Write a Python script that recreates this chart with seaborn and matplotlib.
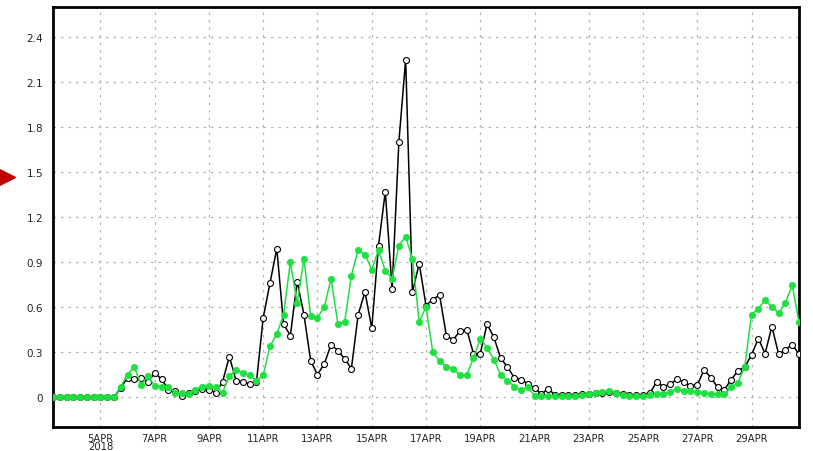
import matplotlib
matplotlib.use("Agg")
import matplotlib.pyplot as plt
import matplotlib.transforms as mtransforms
import numpy as np
import pandas as pd
import seaborn as sns

# 6-hourly readings, 3 Apr 2018 06:00 to 30 Apr 2018 18:00
start = "2018-04-03 06:00"
freq = "6h"

series_black = [
    0, 0, 0, 0, 0, 0, 0, 0, 0, 0,
    0.06, 0.13, 0.12, 0.13, 0.10, 0.16, 0.12, 0.05, 0.04, 0.01,
    0.03, 0.04, 0.055, 0.05, 0.03, 0.10, 0.27, 0.11, 0.10, 0.09,
    0.10, 0.53, 0.76, 0.99, 0.485, 0.41, 0.77, 0.55, 0.24, 0.15,
    0.22, 0.35, 0.31, 0.255, 0.19, 0.55, 0.70, 0.46, 1.01, 1.37,
    0.72, 1.70, 2.25, 0.70, 0.89, 0.61, 0.65, 0.68, 0.41, 0.38,
    0.44, 0.45, 0.29, 0.29, 0.485, 0.40, 0.26, 0.20, 0.13, 0.115,
    0.09, 0.06, 0.02, 0.055, 0.015, 0.015, 0.015, 0.015, 0.02, 0.02,
    0.025, 0.03, 0.035, 0.03, 0.02, 0.015, 0.015, 0.015, 0.025, 0.10,
    0.07, 0.085, 0.12, 0.10, 0.075, 0.08, 0.18, 0.13, 0.065, 0.05,
    0.115, 0.175, 0.20, 0.28, 0.39, 0.29, 0.47, 0.285, 0.315, 0.35,
    0.285,
]

series_green = [
    0, 0, 0, 0, 0, 0, 0, 0, 0, 0,
    0.07, 0.15, 0.20, 0.08, 0.14, 0.075, 0.07, 0.065, 0.03, 0.03,
    0.02, 0.05, 0.07, 0.075, 0.065, 0.03, 0.14, 0.18, 0.16, 0.145,
    0.11, 0.145, 0.34, 0.42, 0.55, 0.90, 0.625, 0.92, 0.54, 0.53,
    0.60, 0.79, 0.49, 0.50, 0.81, 0.98, 0.95, 0.85, 0.98, 0.84,
    0.79, 1.01, 1.07, 0.92, 0.50, 0.60, 0.30, 0.24, 0.20, 0.19,
    0.145, 0.145, 0.26, 0.39, 0.33, 0.25, 0.15, 0.11, 0.07, 0.045,
    0.065, 0.01, 0.005, 0.005, 0.005, 0.008, 0.008, 0.01, 0.015, 0.02,
    0.03, 0.035, 0.04, 0.03, 0.015, 0.01, 0.01, 0.01, 0.015, 0.02,
    0.02, 0.035, 0.055, 0.04, 0.04, 0.035, 0.03, 0.02, 0.02, 0.02,
    0.065, 0.095, 0.20, 0.55, 0.59, 0.645, 0.60, 0.56, 0.63, 0.745,
    0.50,
]

tick_dates = ["2018-04-%02d" % d for d in range(5, 30, 2)]
tick_labels = ["5APR\n2018"] + ["%dAPR" % d for d in range(7, 30, 2)]
y_ticks = [0, 0.3, 0.6, 0.9, 1.2, 1.5, 1.8, 2.1, 2.4]
y_tick_labels = ["0", "0.3", "0.6", "0.9", "1.2", "1.5", "1.8", "2.1", "2.4"]
threshold = 1.5

times = pd.date_range(start, periods=len(series_black), freq=freq)
df = pd.DataFrame({"time": times, "black": series_black, "green": series_green})

sns.set_style("white")
plt.rcParams["font.family"] = ["DejaVu Sans"]

fig = plt.figure(figsize=(8.13, 4.52), dpi=100)
ax = fig.add_axes([53 / 813, 24 / 452, 746 / 813, 420 / 452])

sns.lineplot(data=df, x="time", y="black", ax=ax, color="black", lw=1.1,
             marker="o", markersize=4.3, markerfacecolor="white",
             markeredgecolor="black", markeredgewidth=0.8, zorder=3)
sns.lineplot(data=df, x="time", y="green", ax=ax, color="#22de44", lw=1.1,
             marker="o", markersize=4.6, markerfacecolor="#1ee040",
             markeredgecolor="#1ee040", markeredgewidth=0.5, zorder=4)

ax.set_xlim(times[0], times[-1])
ax.set_ylim(-0.2, 2.6)
ax.set_xticks(pd.to_datetime(tick_dates))
ax.set_xticklabels(tick_labels, fontsize=7.2, linespacing=0.85)
ax.set_yticks(y_ticks)
ax.set_yticklabels(y_tick_labels, fontsize=7.5)
ax.set_xlabel("")
ax.set_ylabel("")

ax.grid(True, color="#b4b4b4", linestyle=(0, (2, 4)), linewidth=0.9)
ax.tick_params(axis="x", length=3, width=1, pad=1, colors="#222222")
ax.tick_params(axis="y", length=0, pad=7, colors="#222222")
for spine in ax.spines.values():
    spine.set_linewidth(2)
    spine.set_color("black")

# red marker at the threshold level, left of the axes
trans = mtransforms.blended_transform_factory(fig.transFigure, ax.transData)
ax.plot([0.009], [threshold - 0.03], marker=">", markersize=12, color="#c00000",
        transform=trans, clip_on=False, linestyle="none")

fig.savefig("out.png", dpi=100)
